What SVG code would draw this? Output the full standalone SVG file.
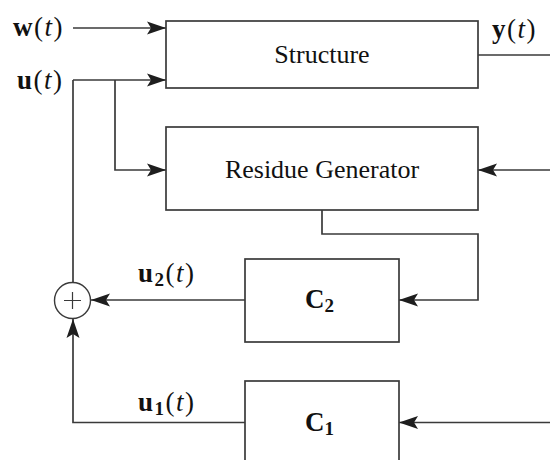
<svg xmlns="http://www.w3.org/2000/svg" width="550" height="460" viewBox="0 0 550 460">
<style>
.box{fill:#fff;stroke:#3a3a3a;stroke-width:1.7}
.ln{fill:none;stroke:#3a3a3a;stroke-width:1.7}
.t{font-family:"Liberation Serif","Times New Roman",serif;fill:#111}
.lbl{font-size:26px}
.m{font-size:27px;letter-spacing:1.5px}
.cc{font-size:27px}
.b{font-weight:bold}
.i{font-style:italic}
.sub{font-size:19px;font-weight:bold}
</style>
<defs>
<marker id="ah" markerUnits="userSpaceOnUse" markerWidth="20" markerHeight="14" viewBox="-19 -7 20 14" refX="0" refY="0" orient="auto">
<path d="M0,0 L-19,-6.5 L-15,0 L-19,6.5 Z" fill="#1e1e1e"/>
</marker>
</defs>
<g id="connectors">
<path class="ln" d="M73,28 H166" marker-end="url(#ah)"/>
<path class="ln" d="M73,80 H166" marker-end="url(#ah)"/>
<path class="ln" d="M73,80 V282.5"/>
<path class="ln" d="M115,80 V170 H166" marker-end="url(#ah)"/>
<path class="ln" d="M478,55 H550"/>
<path class="ln" d="M550,170 H478" marker-end="url(#ah)"/>
<path class="ln" d="M322,210 V234 H478 V300 H399" marker-end="url(#ah)"/>
<path class="ln" d="M245,300 H91" marker-end="url(#ah)"/>
<path class="ln" d="M245,422.5 H73 V319" marker-end="url(#ah)"/>
<path class="ln" d="M550,422.5 H399" marker-end="url(#ah)"/>
</g>
<g id="structure">
<rect class="box" x="166" y="21" width="312" height="67"/>
<text class="t lbl" x="322" y="63" text-anchor="middle">Structure</text>
</g>
<g id="residue-generator">
<rect class="box" x="166" y="127" width="312" height="83"/>
<text class="t lbl" x="322" y="178" text-anchor="middle">Residue Generator</text>
</g>
<g id="c2">
<rect class="box" x="245" y="259" width="154" height="83"/>
<text class="t cc b" x="305" y="308">C<tspan class="sub" dy="4">2</tspan></text>
</g>
<g id="c1">
<rect class="box" x="245" y="381" width="154" height="90"/>
<text class="t cc b" x="305" y="431">C<tspan class="sub" dy="4">1</tspan></text>
</g>
<g id="sum">
<circle cx="72.5" cy="300.5" r="18" fill="#fff" stroke="#3a3a3a" stroke-width="1.4"/>
<path d="M64,300.5 H81 M72.5,292 V309" stroke="#3a3a3a" stroke-width="1.2" fill="none"/>
</g>
<g id="labels">
<text class="t m" x="13" y="36"><tspan class="b">w</tspan>(<tspan class="i">t</tspan>)</text>
<text class="t m" x="17" y="89"><tspan class="b">u</tspan>(<tspan class="i">t</tspan>)</text>
<text class="t m" x="492" y="38"><tspan class="b">y</tspan>(<tspan class="i">t</tspan>)</text>
<text class="t m" x="138" y="282"><tspan class="b">u</tspan><tspan class="sub" dy="4">2</tspan><tspan dy="-4">(</tspan><tspan class="i">t</tspan>)</text>
<text class="t m" x="138" y="411"><tspan class="b">u</tspan><tspan class="sub" dy="4">1</tspan><tspan dy="-4">(</tspan><tspan class="i">t</tspan>)</text>
</g>
</svg>
